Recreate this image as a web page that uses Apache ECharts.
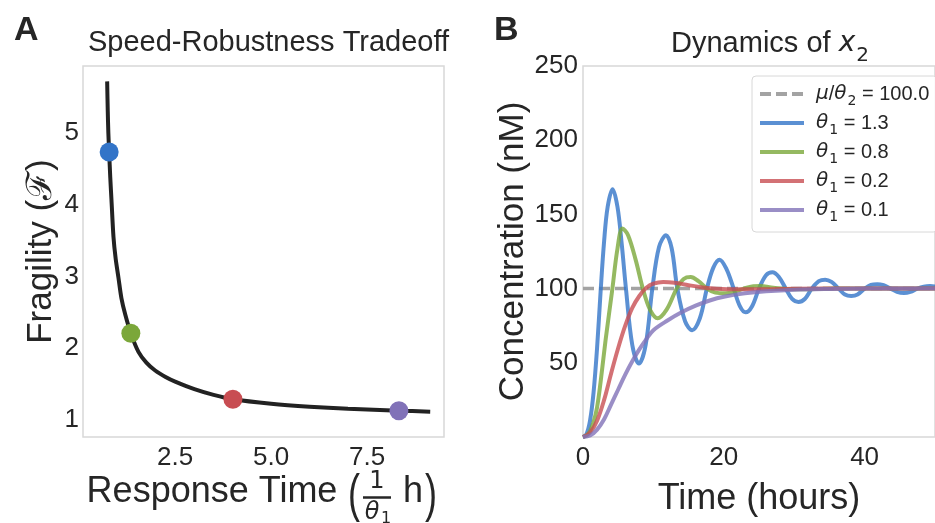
<!DOCTYPE html>
<html><head><meta charset="utf-8">
<script src="https://cdn.jsdelivr.net/npm/echarts@6/dist/echarts.min.js"></script>
<style>html,body{margin:0;padding:0;background:#fff}#c{width:935px;height:523px}</style>
</head><body><div id="c"></div>
<script>
// ---------- Panel A data ----------
const respTime = [0.729,0.745,0.760,0.781,0.81,0.841,0.894,0.95,1.024,1.10,1.20,1.346,1.544,1.75,1.979,2.25,2.5,3.0,3.5,4.003,5.0,6.0,7.0,8.326,9.141];
const fragility = [5.72,5.30,5.00,4.735,4.38,4.07,3.55,3.25,2.98,2.70,2.47,2.208,1.95,1.80,1.69,1.60,1.535,1.43,1.35,1.288,1.226,1.185,1.156,1.130,1.116];
const dotTime = [0.781,1.346,4.003,8.326];
const dotFragility = [4.735,2.208,1.288,1.130];
const xTicksA = [2.5,5.0,7.5];
const yTicksA = [1,2,3,4,5];

// ---------- Panel B data ----------
const thetaValues = ['1.3','0.8','0.2','0.1'];
const steadyLevel = 100;
const steadyTimes = [0,50];
const timeT13 = [0,0.5,1.0,1.5,2.0,2.5,3.0,3.5,4.2,4.9,5.5,6.1,7.0,7.95,8.9,9.85,10.8,11.8,12.6,13.4,14.5,15.5,16.6,17.6,18.5,19.4,20.4,21.4,22.3,23.1,24.0,25.0,26.0,26.9,27.8,28.8,29.7,30.6,31.5,32.5,33.5,34.4,35.3,36.3,37.2,38.1,39.0,40.0,40.9,41.8,42.7,43.7,44.6,45.6,46.5,47.5,48.4,49.3,50];
const concT13 = [0,2,11,30,60,98,132,155,167,155,130,100,62,49.5,62,100,128,136,127,100,78,72,80,100,114,119.5,113,100,88,84,88,100,109,111,108,100,93,91,93,100,105,106,104.5,100,96,95,96,100,102.5,103,102.3,100,97.8,97,97.8,100,101.3,101.7,101.4];
const timeT08 = [0,0.5,1.0,1.5,2.0,2.5,3.2,4.15,4.9,5.6,6.4,7.5,8.5,9.5,10.6,11.9,13.3,14.3,15.3,16.4,17.6,18.8,20.2,21.5,22.8,24.2,25.3,26.5,28,30,33,36,50];
const concT08 = [0,1,4,10,20,37,65,99,127,140.5,136,119,100,86,80,86,100,106.5,107.8,105,100,97.3,96.8,97.8,100,101.6,101.8,101,100,99.5,99.7,100,100];
const timeT02 = [0,1,2,3,4,5,6,7,8,9,10,11.4,13,15,17,19,22,26,30,40,50];
const concT02 = [0,3,11,25,43,60,75,87,95,100.5,103.3,104.5,104,102.3,100.8,99.9,99.5,99.6,99.9,100,100];
const timeT01 = [0,1,2,3,4,5,6,7,8,9,10,12,14,16,18,20,23,26,30,35,40,50];
const concT01 = [0,1,5,12,22,32,42,51,59,66,72,78.5,84,88.5,92,94.5,96.8,98.2,99.3,99.8,100,100];
const xTicksB = [0,20,40];
const yTicksB = [50,100,150,200,250];

// ---------- styling ----------
const FONT = "'Liberation Sans', Arial, sans-serif";
const MATH = "'DejaVu Sans', sans-serif";
const TXT = '#262626';
const colors = ['#3274c8','#7ba73a','#c84d52','#8172b8'];

const zip = (a, b) => a.map((v, i) => [v, b[i]]);
const rich = {
  n: {fontFamily: FONT, fontSize: 20, color: TXT, lineHeight: 22, verticalAlign: 'middle'},
  i: {fontFamily: MATH, fontStyle: 'italic', fontSize: 20, color: TXT, lineHeight: 22, verticalAlign: 'middle'},
  s: {fontFamily: MATH, fontSize: 14, color: TXT, lineHeight: 22, verticalAlign: 'bottom', padding: [0,0,-3,1]}
};

const lineSets = [[timeT13, concT13],[timeT08, concT08],[timeT02, concT02],[timeT01, concT01]];
const seriesB = lineSets.map((d, k) => ({
  name: 'th' + k, type: 'line', xAxisIndex: 1, yAxisIndex: 1,
  data: zip(d[0], d[1]), showSymbol: false, symbol: 'none', smooth: 0.35,
  lineStyle: {width: 4, color: colors[k], opacity: 0.8}, itemStyle: {color: colors[k], opacity: 0.8},
  z: 3 + k
}));

const legendLabel = name => {
  if (name === 'steady') return '{i|μ}{n|/}{i|θ}{s|2}{n| = ' + steadyLevel.toFixed(1) + '}';
  const k = +name.slice(2);
  return '{i|θ}{s|1}{n| = ' + thetaValues[k] + '}';
};

const chart = echarts.init(document.getElementById('c'), null, {renderer: 'canvas'});
chart.setOption({
  animation: false,
  backgroundColor: '#fff',
  textStyle: {fontFamily: FONT, color: TXT},
  title: [
    {text: 'Speed-Robustness Tradeoff', left: 263.5, top: 23, textAlign: 'center',
     textStyle: {fontFamily: FONT, fontSize: 29, fontWeight: 'normal', color: TXT}},
    {text: '{n|Dynamics of }{i|x}{s|2}', left: 765, top: 21, textAlign: 'center',
     textStyle: {fontWeight: 'normal', rich: {
       n: {fontFamily: FONT, fontSize: 29, fontWeight: 'normal', color: TXT, lineHeight: 36, verticalAlign: 'middle'},
       i: {fontFamily: MATH, fontStyle: 'italic', fontWeight: 'normal', fontSize: 28, color: TXT, lineHeight: 36, verticalAlign: 'middle'},
       s: {fontFamily: MATH, fontSize: 20, fontWeight: 'normal', color: TXT, lineHeight: 36, verticalAlign: 'bottom', padding: [0,0,-4,1]}
     }}},
    {text: 'A', left: 9, top: 9, textStyle: {fontFamily: FONT, fontSize: 34, fontWeight: 'bold', color: TXT}},
    {text: 'B', left: 489, top: 9, textStyle: {fontFamily: FONT, fontSize: 34, fontWeight: 'bold', color: TXT}}
  ],
  grid: [
    {left: 83, top: 66, width: 361, height: 371, show: true, borderColor: '#d8d8d8', borderWidth: 1.5, backgroundColor: '#fff'},
    {left: 583, top: 66, width: 361, height: 371, show: true, borderColor: '#d8d8d8', borderWidth: 1.5, backgroundColor: '#fff'}
  ],
  xAxis: [
    {type: 'value', gridIndex: 0, min: 0.1, max: 9.5,
     axisLine: {show: false}, axisTick: {show: false}, splitLine: {show: false},
     axisLabel: {customValues: xTicksA, formatter: v => v.toFixed(1), fontSize: 26, color: TXT, fontFamily: FONT, margin: 8}},
    {type: 'value', gridIndex: 1, min: 0, max: 50,
     name: 'Time (hours)', nameLocation: 'middle', nameGap: 44,
     nameTextStyle: {fontSize: 36, color: TXT, fontFamily: FONT},
     axisLine: {show: false}, axisTick: {show: false}, splitLine: {show: false},
     axisLabel: {customValues: xTicksB, fontSize: 26, color: TXT, fontFamily: FONT, margin: 8}}
  ],
  yAxis: [
    {type: 'value', gridIndex: 0, min: 0.763, max: 5.934,
     name: 'Fragility (ℱ)', nameLocation: 'middle', nameGap: 24,
     nameTextStyle: {fontSize: 35, color: TXT, fontFamily: FONT},
     axisLine: {show: false}, axisTick: {show: false}, splitLine: {show: false},
     axisLabel: {customValues: yTicksA, fontSize: 26, color: TXT, fontFamily: FONT, margin: 4}},
    {type: 'value', gridIndex: 1, min: 0, max: 250,
     name: 'Concentration (nM)', nameLocation: 'middle', nameGap: 49,
     nameTextStyle: {fontSize: 35, color: TXT, fontFamily: FONT},
     axisLine: {show: false}, axisTick: {show: false}, splitLine: {show: false},
     axisLabel: {customValues: yTicksB, fontSize: 26, color: TXT, fontFamily: FONT, margin: 5}}
  ],
  legend: {
    data: ['steady','th0','th1','th2','th3'],
    orient: 'vertical', left: 752, top: 76,
    padding: [8, 8, 8, 6], itemWidth: 44, itemHeight: 12, itemGap: 5,
    backgroundColor: 'rgba(255,255,255,0.85)', borderColor: '#d8d8d8', borderWidth: 1, borderRadius: 4,
    lineStyle: {width: 4},
    itemStyle: {opacity: 0},
    formatter: legendLabel,
    textStyle: {rich: rich, padding: [0,0,0,7]}
  },
  graphic: [
    {type: 'text', x: 212, y: 492, style: {text: 'Response Time', font: '36px ' + FONT, fill: TXT, textAlign: 'center', textVerticalAlign: 'middle'}},
    {type: 'text', x: 354, y: 497, scaleY: 1.45, originX: 0, originY: 0, style: {text: '(', font: '36px ' + FONT, fill: TXT, textAlign: 'center', textVerticalAlign: 'middle'}},
    {type: 'text', x: 377, y: 482, style: {text: '1', font: '24px ' + MATH, fill: TXT, textAlign: 'center', textVerticalAlign: 'middle'}},
    {type: 'line', shape: {x1: 363, y1: 497.5, x2: 391, y2: 497.5}, style: {stroke: TXT, lineWidth: 2.5}},
    {type: 'text', x: 372, y: 513, style: {text: 'θ', font: 'italic 24px ' + MATH, fill: TXT, textAlign: 'center', textVerticalAlign: 'middle'}},
    {type: 'text', x: 386, y: 519, style: {text: '1', font: '16px ' + MATH, fill: TXT, textAlign: 'center', textVerticalAlign: 'middle'}},
    {type: 'text', x: 413, y: 492, style: {text: 'h', font: '36px ' + FONT, fill: TXT, textAlign: 'center', textVerticalAlign: 'middle'}},
    {type: 'text', x: 431, y: 497, scaleY: 1.45, originX: 0, originY: 0, style: {text: ')', font: '36px ' + FONT, fill: TXT, textAlign: 'center', textVerticalAlign: 'middle'}}
  ],
  series: [
    {name: 'curve', type: 'line', xAxisIndex: 0, yAxisIndex: 0, data: zip(respTime, fragility),
     showSymbol: false, symbol: 'none', smooth: 0.3, lineStyle: {width: 4, color: '#222222'}, z: 2},
    {name: 'dots', type: 'scatter', xAxisIndex: 0, yAxisIndex: 0, symbolSize: 19, z: 5,
     data: dotTime.map((t, i) => ({value: [t, dotFragility[i]], itemStyle: {color: colors[i], opacity: 1}}))},
    {name: 'steady', type: 'line', xAxisIndex: 1, yAxisIndex: 1,
     data: steadyTimes.map(t => [t, steadyLevel]), showSymbol: false, symbol: 'none',
     lineStyle: {width: 3.5, color: '#a3a3a3', type: [11, 5]}, itemStyle: {color: '#a3a3a3'}, z: 2}
  ].concat(seriesB)
});
</script></body></html>
